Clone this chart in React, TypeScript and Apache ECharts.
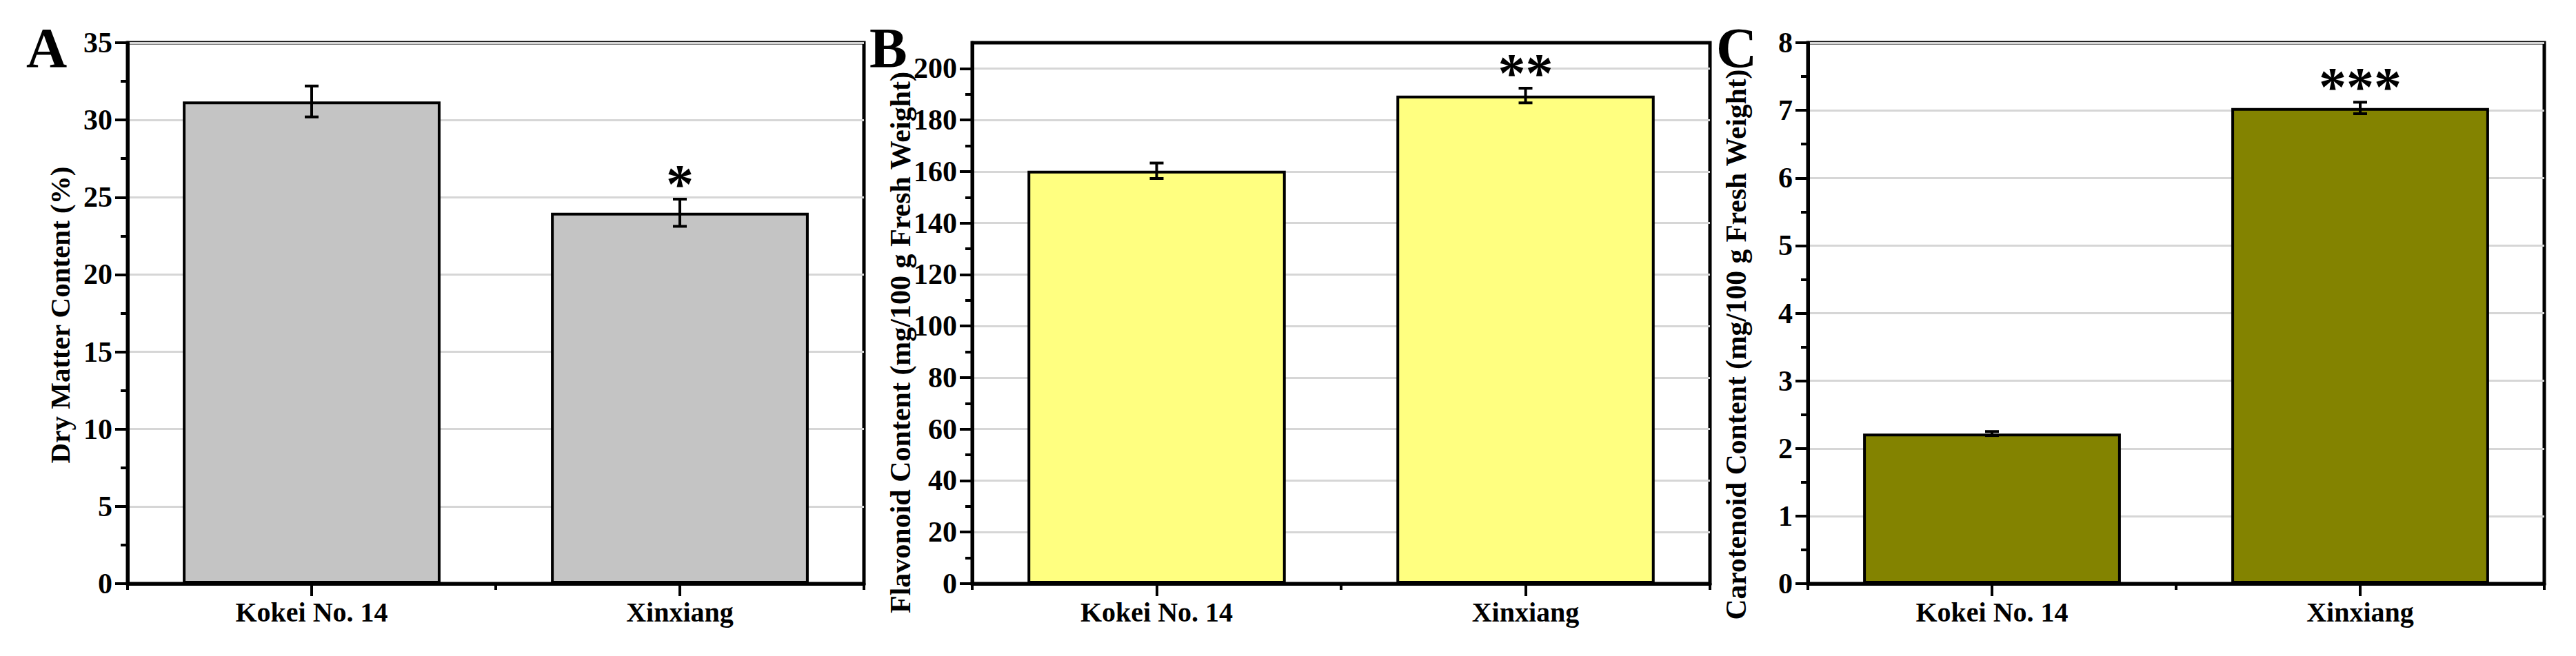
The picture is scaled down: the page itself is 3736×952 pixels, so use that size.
import React, { useEffect, useRef } from 'react';
import * as echarts from 'echarts';

// ---- data ----
const categories = ['Kokei No. 14', 'Xinxiang'];

const dryMatter = [31.2, 24.0];
const dryMatterErr = [1.0, 0.88];
const dryMatterSig = ['', '*'];

const flavonoid = [160.3, 189.5];
const flavonoidErr = [3.0, 2.85];
const flavonoidSig = ['', '**'];

const carotenoid = [2.22, 7.035];
const carotenoidErr = [0.03, 0.085];
const carotenoidSig = ['', '***'];

const majorTicksA = [0, 5, 10, 15, 20, 25, 30, 35];
const minorTicksA = [2.5, 7.5, 12.5, 17.5, 22.5, 27.5, 32.5];
const majorTicksB = [0, 20, 40, 60, 80, 100, 120, 140, 160, 180, 200];
const minorTicksB = [10, 30, 50, 70, 90, 110, 130, 150, 170, 190];
const majorTicksC = [0, 1, 2, 3, 4, 5, 6, 7, 8];
const minorTicksC = [0.5, 1.5, 2.5, 3.5, 4.5, 5.5, 6.5, 7.5];

const FONT = '"Liberation Serif", "Times New Roman", serif';

type Panel = {
  letter: string;
  title: string;
  values: number[];
  errs: number[];
  sig: string[];
  color: string;
  max: number;
  interval: number;
  majors: number[];
  minors: number[];
  grid: { left: number; right: number };
  letterX: number;
  titleX: number;
  titleY: number;
  titleSize: number;
};

const panels: Panel[] = [
  {
    letter: 'A',
    title: 'Dry Matter Content (%)',
    values: dryMatter,
    errs: dryMatterErr,
    sig: dryMatterSig,
    color: '#c4c4c4',
    max: 35,
    interval: 5,
    majors: majorTicksA,
    minors: minorTicksA,
    grid: { left: 185, right: 2483 },
    letterX: 38,
    titleX: 87,
    titleY: 457,
    titleSize: 41,
  },
  {
    letter: 'B',
    title: 'Flavonoid Content (mg/100 g Fresh Weight)',
    values: flavonoid,
    errs: flavonoidErr,
    sig: flavonoidSig,
    color: '#ffff80',
    max: 210,
    interval: 20,
    majors: majorTicksB,
    minors: minorTicksB,
    grid: { left: 1410, right: 1256 },
    letterX: 1261,
    titleX: 1306,
    titleY: 497,
    titleSize: 42,
  },
  {
    letter: 'C',
    title: 'Carotenoid Content (mg/100 g Fresh Weight)',
    values: carotenoid,
    errs: carotenoidErr,
    sig: carotenoidSig,
    color: '#838300',
    max: 8,
    interval: 1,
    majors: majorTicksC,
    minors: minorTicksC,
    grid: { left: 2622, right: 46 },
    letterX: 2489,
    titleX: 2518,
    titleY: 500,
    titleSize: 41.5,
  },
];

function buildOption() {
  const grids: any[] = [];
  const xAxes: any[] = [];
  const yAxes: any[] = [];
  const series: any[] = [];
  const graphics: any[] = [];

  panels.forEach((p, i) => {
    grids.push({
      left: p.grid.left,
      right: p.grid.right,
      top: 62,
      bottom: 105,
      show: true,
      borderColor: '#000',
      borderWidth: 5,
      backgroundColor: 'transparent',
      outerBoundsMode: 'none',
    });

    // main x axis (ticks at category centers)
    xAxes.push({
      type: 'category',
      gridIndex: i,
      position: 'bottom',
      data: categories,
      axisLine: { show: true, lineStyle: { color: '#000', width: 5 } },
      axisTick: { show: true, alignWithLabel: true, length: 18, lineStyle: { color: '#000', width: 4 } },
      axisLabel: {
        show: true,
        margin: 21,
        color: '#000',
        fontFamily: FONT,
        fontWeight: 'bold',
        fontSize: 40,
      },
      splitLine: { show: false },
    });
    // minor x axis (ticks at category boundaries)
    xAxes.push({
      type: 'category',
      gridIndex: i,
      position: 'bottom',
      data: categories,
      axisLine: { show: false },
      axisTick: { show: true, alignWithLabel: false, length: 9, lineStyle: { color: '#000', width: 4 } },
      axisLabel: { show: false },
      splitLine: { show: false },
    });

    // main y axis
    yAxes.push({
      type: 'value',
      gridIndex: i,
      position: 'left',
      min: 0,
      max: p.max,
      interval: p.interval,
      axisLine: { show: true, lineStyle: { color: '#000', width: 5 } },
      axisTick: { show: true, length: 18, lineStyle: { color: '#000', width: 4 }, customValues: p.majors },
      axisLabel: {
        show: true,
        margin: 22,
        color: '#000',
        fontFamily: FONT,
        fontWeight: 'bold',
        fontSize: 42,
        customValues: p.majors,
        showMaxLabel: true,
        showMinLabel: true,
      },
      splitLine: { show: true, lineStyle: { color: '#d6d6d6', width: 3 } },
    });
    // minor y axis
    yAxes.push({
      type: 'value',
      gridIndex: i,
      position: 'left',
      min: 0,
      max: p.max,
      interval: p.interval / 2,
      axisLine: { show: false },
      axisTick: { show: true, length: 10, lineStyle: { color: '#000', width: 4 }, customValues: p.minors },
      axisLabel: { show: false },
      splitLine: { show: false },
    });

    series.push({
      type: 'bar',
      xAxisIndex: 2 * i,
      yAxisIndex: 2 * i,
      data: p.values,
      barWidth: '70%',
      itemStyle: { color: p.color, borderColor: '#000', borderWidth: 4 },
      z: 2,
    });

    series.push({
      type: 'custom',
      xAxisIndex: 2 * i,
      yAxisIndex: 2 * i,
      data: p.values.map((v, k) => [k, v, p.errs[k]]),
      encode: { x: 0, y: 1 },
      z: 5,
      renderItem: (params: any, api: any) => {
        const x = api.value(0);
        const m = api.value(1);
        const e = api.value(2);
        const top = api.coord([x, m + e]);
        const bot = api.coord([x, m - e]);
        const cap = 10;
        const ls = { stroke: '#000', lineWidth: 4 };
        const children: any[] = [
          { type: 'line', shape: { x1: top[0], y1: top[1], x2: bot[0], y2: bot[1] }, style: ls },
          { type: 'line', shape: { x1: top[0] - cap, y1: top[1], x2: top[0] + cap, y2: top[1] }, style: ls },
          { type: 'line', shape: { x1: bot[0] - cap, y1: bot[1], x2: bot[0] + cap, y2: bot[1] }, style: ls },
        ];
        const s = p.sig[params.dataIndex];
        if (s) {
          children.push({
            type: 'text',
            x: top[0],
            y: top[1] - 22,
            style: {
              text: s,
              fill: '#000',
              font: `bold 80px ${FONT}`,
              align: 'center',
              verticalAlign: 'middle',
            },
          });
        }
        return { type: 'group', children };
      },
    });

    graphics.push({
      type: 'text',
      x: p.letterX,
      y: 28,
      style: {
        text: p.letter,
        fill: '#000',
        font: `bold 82px ${FONT}`,
        align: 'left',
        verticalAlign: 'top',
      },
    });
    graphics.push({
      type: 'text',
      x: p.titleX,
      y: p.titleY,
      rotation: Math.PI / 2,
      style: {
        text: p.title,
        fill: '#000',
        font: `bold ${p.titleSize}px ${FONT}`,
        align: 'center',
        verticalAlign: 'middle',
      },
    });
  });

  return {
    animation: false,
    backgroundColor: '#fff',
    grid: grids,
    xAxis: xAxes,
    yAxis: yAxes,
    series,
    graphic: graphics,
  };
}

export default function App() {
  const ref = useRef<HTMLDivElement>(null);
  useEffect(() => {
    if (!ref.current) return;
    const chart = echarts.init(ref.current, null, { renderer: 'svg' });
    chart.setOption(buildOption() as any);
    return () => chart.dispose();
  }, []);
  return (
    <div
      ref={ref}
      style={{ position: 'absolute', left: 0, top: 0, width: 3736, height: 952, background: '#fff' }}
    />
  );
}
